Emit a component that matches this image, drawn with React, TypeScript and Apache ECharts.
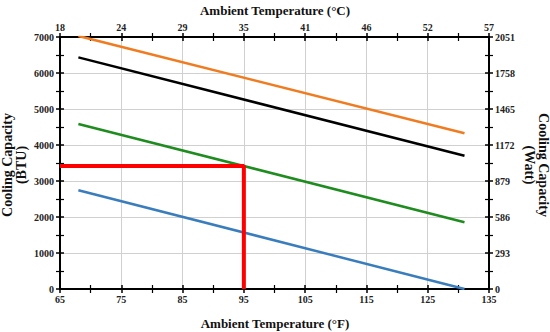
import React, { useEffect, useRef } from "react";
import * as echarts from "echarts";

const fahrenheitTicks = [65, 75, 85, 95, 105, 115, 125, 135];
const celsiusLabels = ["18", "24", "29", "35", "41", "46", "52", "57"];
const btuTicks = [0, 1000, 2000, 3000, 4000, 5000, 6000, 7000];
const wattLabels = ["0", "293", "586", "879", "1172", "1465", "1758", "2051"];

const orangeSeries: [number, number][] = [[68, 7030], [131, 4325]];
const blackSeries: [number, number][] = [[68, 6435], [131, 3700]];
const greenSeries: [number, number][] = [[68, 4585], [131, 1855]];
const blueSeries: [number, number][] = [[68, 2745], [131, 0]];
const redSeries: [number, number][] = [[65, 3420], [95, 3420], [95, 0]];

const FONT = "'Liberation Serif', 'DejaVu Serif', serif";

export default function App() {
  const ref = useRef<HTMLDivElement>(null);
  useEffect(() => {
    if (!ref.current) return;
    const chart = echarts.init(ref.current, undefined, { renderer: "svg" });
    const xMin = fahrenheitTicks[0];
    const xMax = fahrenheitTicks[fahrenheitTicks.length - 1];
    const yMin = btuTicks[0];
    const yMax = btuTicks[btuTicks.length - 1];
    const labelStyle = { fontFamily: FONT, fontWeight: "bold" as const, fontSize: 10, color: "#222" };
    const axisLine = { show: true, onZero: false, lineStyle: { color: "#000", width: 2 } };
    const baseX = (position: "top" | "bottom", showLabels: boolean, inside: boolean, grid: boolean, fmt?: (v: number) => string) => ({
      type: "value" as const,
      position,
      min: xMin,
      max: xMax,
      interval: 10,
      axisLine,
      axisTick: { show: true, inside, length: 4, lineStyle: { color: "#000", width: 1.5 } },
      minorTick: { show: true, splitNumber: 2, length: 4, lineStyle: { color: "#000", width: 1.2 } },
      axisLabel: { show: showLabels, margin: 5, ...labelStyle, formatter: fmt },
      splitLine: { show: grid, lineStyle: { color: "#d0d0d0", width: 1 } },
    });
    const baseY = (position: "left" | "right", showLabels: boolean, inside: boolean, grid: boolean, fmt?: (v: number) => string) => ({
      type: "value" as const,
      position,
      min: yMin,
      max: yMax,
      interval: 1000,
      axisLine,
      axisTick: { show: true, inside, length: 4, lineStyle: { color: "#000", width: 1.5 } },
      minorTick: { show: true, splitNumber: 2, length: 4, lineStyle: { color: "#000", width: 1.2 } },
      axisLabel: { show: showLabels, margin: 6, ...labelStyle, formatter: fmt },
      splitLine: { show: grid, lineStyle: { color: "#d0d0d0", width: 1 } },
    });
    const lineSeries = (data: [number, number][], color: string, width: number) => ({
      type: "line" as const,
      data,
      showSymbol: false,
      symbol: "none",
      lineStyle: { color, width },
      clip: true,
      xAxisIndex: 0,
      yAxisIndex: 0,
    });
    chart.setOption({
      animation: false,
      grid: { left: 60, right: 61, top: 37, bottom: 43, containLabel: false },
      xAxis: [
        baseX("bottom", true, false, true, (v: number) => String(v)),
        baseX("top", true, false, false, (v: number) => celsiusLabels[Math.round((v - xMin) / 10)] ?? ""),
        baseX("bottom", false, true, false),
        baseX("top", false, true, false),
      ],
      yAxis: [
        baseY("left", true, false, true, (v: number) => String(v)),
        baseY("right", true, false, false, (v: number) => wattLabels[Math.round((v - yMin) / 1000)] ?? ""),
        baseY("left", false, true, false),
        baseY("right", false, true, false),
      ],
      series: [
        lineSeries(orangeSeries, "#f07c22", 2.5),
        lineSeries(blackSeries, "#000000", 2.5),
        lineSeries(greenSeries, "#1e8c1e", 2.5),
        lineSeries(blueSeries, "#3a7dbd", 2.5),
        lineSeries(redSeries, "#ff0000", 4),
      ],
      graphic: [
        {
          type: "text",
          x: 275,
          y: 10,
          style: { text: "Ambient Temperature (°C)", font: `bold 13px ${FONT}`, fill: "#111", align: "center", verticalAlign: "middle" },
        },
        {
          type: "text",
          x: 275,
          y: 323,
          style: { text: "Ambient Temperature (°F)", font: `bold 13px ${FONT}`, fill: "#111", align: "center", verticalAlign: "middle" },
        },
        {
          type: "text",
          x: 14,
          y: 165,
          rotation: Math.PI / 2,
          style: { text: "Cooling Capacity\n(BTU)", font: `bold 14px ${FONT}`, lineHeight: 14, fill: "#111", align: "center", verticalAlign: "middle" },
        },
        {
          type: "text",
          x: 536,
          y: 165,
          rotation: -Math.PI / 2,
          style: { text: "Cooling Capacity\n(Watt)", font: `bold 14px ${FONT}`, lineHeight: 14, fill: "#111", align: "center", verticalAlign: "middle" },
        },
      ],
    });
    return () => chart.dispose();
  }, []);
  return <div ref={ref} style={{ width: 550, height: 332, position: "absolute", left: 0, top: 0 }} />;
}
